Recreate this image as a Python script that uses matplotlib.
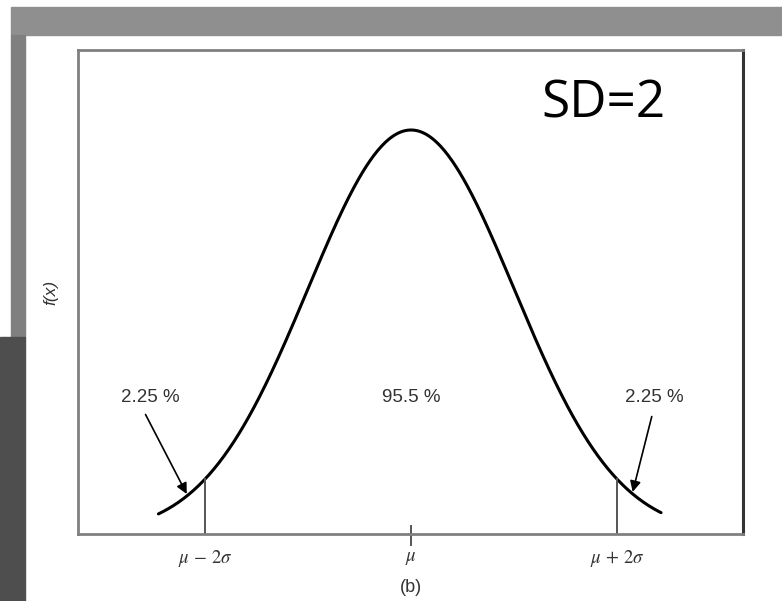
import numpy as np
import matplotlib.pyplot as plt
from matplotlib.patches import Rectangle

plt.rcParams['mathtext.fontset'] = 'stix'

# Parametros de la curva normal
mu = 0.0
sd = 2.0
x_start, x_end = -4.9, 4.85  # extremos de la curva dibujada
tick_pos = [mu - 2 * sd, mu, mu + 2 * sd]
tick_labels = [r'$\mu\,-\,2\sigma$', r'$\mu$', r'$\mu\,+\,2\sigma$']

# Etiquetas de porcentaje: texto, x del texto, inicio de la flecha, punta de la flecha
pct_labels = ['2.25 %', '95.5 %', '2.25 %']
pct_text_x = [-5.05, 0.0, 4.71]
pct_arrow_from = [(-5.15, 0.059), None, (4.67, 0.058)]
pct_arrow_to = [-4.35, None, 4.3]


def pdf(x):
    return np.exp(-(x - mu) ** 2 / (2 * sd ** 2)) / (sd * np.sqrt(2 * np.pi))


peak = pdf(mu)
W, H = 782, 601
fig = plt.figure(figsize=(W / 100, H / 100), dpi=100)
fig.patch.set_facecolor('white')


def frect(x0, y0, x1, y1, color):
    # rectangulo en pixeles (origen arriba a la izquierda)
    fig.patches.append(Rectangle((x0 / W, 1 - y1 / H), (x1 - x0) / W, (y1 - y0) / H,
                                 transform=fig.transFigure, color=color, zorder=0))


# Marco gris de fondo (diapositiva)
frect(11, 7, 782, 35, '#8f8f8f')
frect(11, 35, 25, 337, '#808080')
frect(0, 337, 25, 601, '#4e4e4e')

ax = fig.add_axes([78 / W, 1 - 534 / H, (743 - 78) / W, (534 - 50) / H])
ax.set_xlim(-6.46, 6.44)
ax.set_ylim(0, peak * 1.198)

xs = np.linspace(x_start, x_end, 400)
ax.plot(xs, pdf(xs), color='black', lw=2.2, solid_capstyle='round')

# Lineas verticales en mu +- 2 sigma
for xv in [tick_pos[0], tick_pos[2]]:
    ax.plot([xv, xv], [0, pdf(xv)], color='#555555', lw=1.4)

# Marca central
ax.plot([mu, mu], [-0.0055, 0.004], color='#555555', lw=1.4, clip_on=False)

for s in ['left', 'top', 'bottom']:
    ax.spines[s].set_color('#808080')
    ax.spines[s].set_linewidth(2)
ax.spines['right'].set_color('#333333')
ax.spines['right'].set_linewidth(2.2)

ax.set_yticks([])
ax.set_xticks(tick_pos)
ax.set_xticklabels(tick_labels)
ax.tick_params(axis='x', length=0, pad=10, labelsize=13.5, labelcolor='#333333')

ax.set_ylabel('f(x)', fontsize=12.5, style='italic', color='#333333',
              family='Liberation Sans', labelpad=14)
ax.set_xlabel('(b)', fontsize=13, color='#333333', family='Liberation Sans', labelpad=7)

ytxt = peak * 1.198 * (534 - 398) / 484
for lab, tx, afrom, ato in zip(pct_labels, pct_text_x, pct_arrow_from, pct_arrow_to):
    ax.text(tx, ytxt, lab, ha='center', va='center', fontsize=13.5,
            family='Liberation Sans', color='#333333')
    if ato is not None:
        ax.annotate('', xy=(ato, pdf(ato) + 0.001), xytext=afrom,
                    arrowprops=dict(arrowstyle='-|>', color='black', lw=1.2,
                                    mutation_scale=16, shrinkA=0, shrinkB=0))

ax.text(603 / W, 1 - 104 / H, 'SD=2', transform=fig.transFigure, fontsize=37,
        family='Open Sans', ha='center', va='center', color='black')

fig.savefig('out.png', dpi=100, facecolor='white')
